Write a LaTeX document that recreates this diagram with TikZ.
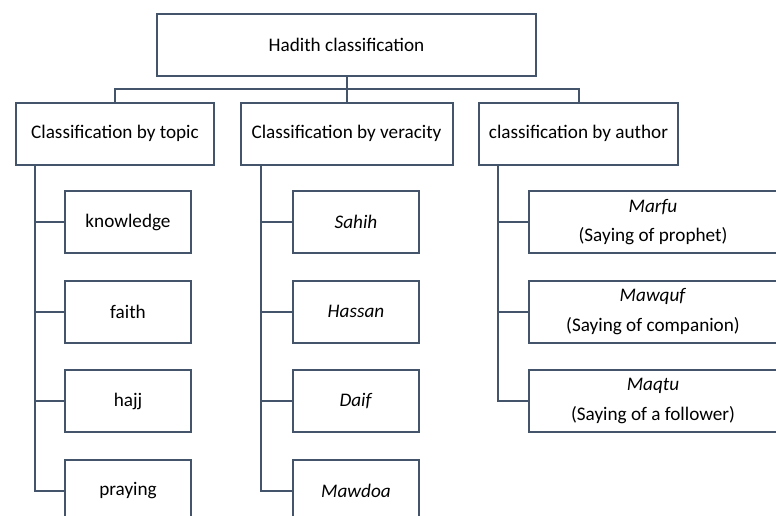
\documentclass[tikz,border=0pt]{standalone}
\usepackage{fontspec}
\setmainfont{Carlito}
\usepackage{tikz}

\definecolor{slate}{HTML}{44546A}

\tikzset{
  box/.style={draw=slate, line width=2pt, minimum height=62pt, inner sep=0pt,
    align=center, font=\fontsize{19.2}{29.5}\selectfont},
  link/.style={draw=slate, line width=2pt}
}

\begin{document}
\begin{tikzpicture}[x=1pt, y=-1pt]

\useasboundingbox (0,0) rectangle (776,515);
\clip (0,0) rectangle (776,515);

% top level
\node[box, minimum width=379pt] (root) at (346.5, 44.5) {Hadith classification};

\node[box, minimum width=198pt] (topic) at (115, 133.5) {Classification by topic};
\node[box, minimum width=212pt] (veracity) at (346.5, 133.5) {Classification by veracity};
\node[box, minimum width=199pt] (author) at (578.5, 133.5) {classification by author};

\draw[link] (root.south) -- (veracity.north);
\draw[link] (topic.north) -- ++(0,-12.5) -| (author.north);

% by topic
\node[box, minimum width=126pt] (know) at (128, 222) {knowledge};
\node[box, minimum width=126pt] (faith) at (128, 311.5) {faith};
\node[box, minimum width=126pt] (hajj) at (128, 401) {hajj};
\node[box, minimum width=126pt] (pray) at (128, 490.5) {praying};

% by veracity
\node[box, minimum width=126pt] (sahih) at (356, 222) {\textit{Sahih}};
\node[box, minimum width=126pt] (hassan) at (356, 311.5) {\textit{Hassan}};
\node[box, minimum width=126pt] (daif) at (356, 401) {\textit{Daif}};
\node[box, minimum width=126pt] (mawdoa) at (356, 490.5) {\textit{Mawdoa}};

% by author
\node[box, minimum width=248pt] (marfu) at (653, 222) {\textit{Marfu}\\(Saying of prophet)};
\node[box, minimum width=248pt] (mawquf) at (653, 311.5) {\textit{Mawquf}\\(Saying of companion)};
\node[box, minimum width=248pt] (maqtu) at (653, 401) {\textit{Maqtu}\\(Saying of a follower)};

\foreach \n in {know, faith, hajj, pray}
  \draw[link] ([xshift=20pt]topic.south west) |- (\n.west);
\foreach \n in {sahih, hassan, daif, mawdoa}
  \draw[link] ([xshift=21pt]veracity.south west) |- (\n.west);
\foreach \n in {marfu, mawquf, maqtu}
  \draw[link] ([xshift=20pt]author.south west) |- (\n.west);

\end{tikzpicture}
\end{document}
